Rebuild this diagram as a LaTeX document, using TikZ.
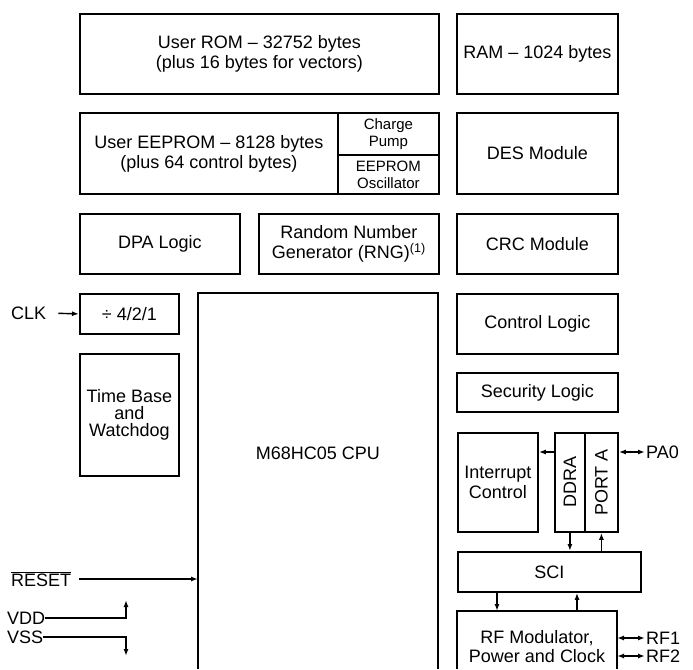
\documentclass[tikz,border=0pt]{standalone}
\usepackage{fontspec}
\setmainfont{Liberation Sans}
\usetikzlibrary{arrows.meta,positioning}

\begin{document}
\begin{tikzpicture}[x=1pt,y=-1pt,font=\fontsize{18}{20}\selectfont,
    blk/.style={draw,line width=1.8pt,anchor=north west,inner sep=0pt,align=center},
    smalltxt/.style={font=\fontsize{15}{17}\selectfont},
    sig/.style={line width=1.4pt,-{Latex[length=7pt,width=5pt]}},
    bisig/.style={line width=1.4pt,{Latex[length=7pt,width=5pt]}-{Latex[length=7pt,width=5pt]}},
    pin/.style={inner sep=1pt,anchor=west}]
  \useasboundingbox (0,0) rectangle (693,669);
  \coordinate (bot) at (0,669);
  % memories
  \node[blk,minimum width=359pt,minimum height=80pt] (rom) at (79,13) {User ROM – 32752 bytes\\(plus 16 bytes for vectors)};
  \node[blk,minimum width=161pt,minimum height=80pt] (ram) at (456,13) {RAM – 1024 bytes};
  \node[blk,minimum width=258pt,minimum height=81pt] (eeprom) at (79,112) {User EEPROM – 8128 bytes\\(plus 64 control bytes)};
  \node[blk,smalltxt,minimum width=101pt,minimum height=42pt] (pump) at (337,112) {Charge\\Pump};
  \node[blk,smalltxt,minimum width=101pt,minimum height=39pt] (osc) at (337,154) {EEPROM\\Oscillator};
  \node[blk,minimum width=161pt,minimum height=81pt] (des) at (456,112) {DES Module};
  \node[blk,minimum width=160pt,minimum height=60pt] (dpa) at (79,213) {DPA Logic};
  \node[blk,minimum width=180pt,minimum height=60pt] (rng) at (258,213) {Random Number\\Generator (RNG)\textsuperscript{(1)}};
  \node[blk,minimum width=161pt,minimum height=60pt] (crc) at (456,213) {CRC Module};
  % left column
  \node[blk,minimum width=99pt,minimum height=40pt] (div) at (79,293) {÷ 4/2/1};
  \node[blk,minimum width=99pt,minimum height=122pt,font=\fontsize{18}{17}\selectfont] (tbase) at (79,353) {Time Base\\and\\Watchdog};
  % cpu (runs off the bottom)
  \node[blk,draw=none,outer sep=0pt,minimum width=240pt,minimum height=320pt] (cpu) at (198,293) {M68HC05 CPU};
  \draw[line width=1.8pt] (cpu.west |- bot) |- (cpu.north east) -- (cpu.east |- bot);
  % right column
  \node[blk,minimum width=161pt,minimum height=60pt] (ctrl) at (456,293) {Control Logic};
  \node[blk,minimum width=161pt,minimum height=39pt] (sec) at (456,372) {Security Logic};
  \node[blk,minimum width=80pt,minimum height=99pt] (intc) at (457,432) {Interrupt\\Control};
  \node[blk,minimum width=30pt,minimum height=99pt,label={[rotate=90]center:DDRA}] (ddra) at (554,432) {};
  \node[blk,minimum width=33pt,minimum height=99pt,label={[rotate=90]center:PORT A}] (porta) at (584,432) {};
  \node[blk,minimum width=183pt,minimum height=40pt] (sci) at (457,551) {SCI};
  \node[blk,draw=none,outer sep=0pt,minimum width=160pt,minimum height=72pt,font=\fontsize{18}{19}\selectfont] (rf) at (457,611) {RF Modulator,\\Power and Clock};
  \draw[line width=1.8pt] (rf.west |- bot) |- (rf.north east) -- (rf.east |- bot);
  % pins
  \node[pin] (clk) at (10,313) {CLK};
  \node[pin] (rst) at (10,579) {$\overline{\mbox{RESET}}$};
  \node[pin,inner sep=0pt] (vdd) at (7,618) {VDD};
  \node[pin,inner sep=0pt] (vss) at (7,637) {VSS};
  \node[pin] (pa0) at (645,452) {PA0};
  \node[pin] (rf1) at (645,638) {RF1};
  \node[pin] (rf2) at (645,656) {RF2};
  \coordinate (vddup) at (126,600);
  \coordinate (vssdn) at (126,656);
  \coordinate (rfin) at ([xshift=-40pt]rf.north);
  \coordinate (rfout) at ([xshift=40pt]rf.north);
  % signals
  \draw[sig,shorten <=11pt] (clk.east) -- (div.west);
  \draw[sig,shorten <=7pt] (rst.east) -- (rst.east -| cpu.west);
  \draw[sig] (vdd.east) -| (vddup);
  \draw[sig] (vss.east) -| (vssdn);
  \draw[sig] ([yshift=-20pt]ddra.north west) -- ([yshift=-20pt]intc.north east);
  \draw[bisig] (porta.east |- pa0) -- (pa0.west);
  \draw[sig] (ddra.south) -- (ddra.south |- sci.north);
  \draw[sig] (porta.south |- sci.north) -- (porta.south);
  \draw[sig] (rfin |- sci.south) -- (rfin);
  \draw[sig] (rfout) -- (rfout |- sci.south);
  \draw[bisig] (rf.east |- rf1) -- (rf1.west);
  \draw[bisig] (rf.east |- rf2) -- (rf2.west);
\end{tikzpicture}
\end{document}
